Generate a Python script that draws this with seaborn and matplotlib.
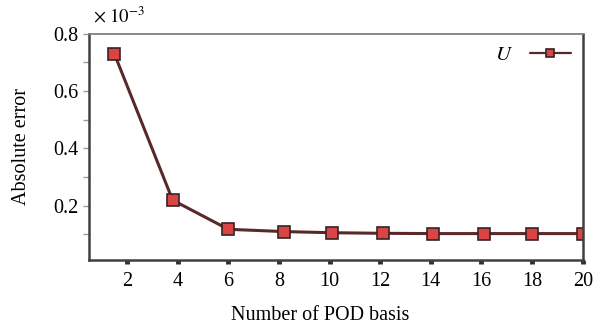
import numpy as np
import pandas as pd
import seaborn as sns
import matplotlib.pyplot as plt
from matplotlib.ticker import MultipleLocator

# values (y in units of 1e-3)
n_basis = [1.5, 3.8, 6.0, 8.2, 10.1, 12.1, 14.1, 16.1, 18.0, 20.0]
abs_error = [0.730, 0.219, 0.117, 0.109, 0.105, 0.103, 0.102, 0.102, 0.102, 0.102]
x_ticks = [2, 4, 6, 8, 10, 12, 14, 16, 18, 20]
y_major = [0.2, 0.4, 0.6, 0.8]

sns.set_theme(style="white")
plt.rcParams['font.family'] = ['Liberation Serif', 'DejaVu Serif']
plt.rcParams['mathtext.fontset'] = 'stix'
plt.rcParams['text.color'] = 'black'
plt.rcParams['axes.labelcolor'] = 'black'
plt.rcParams['xtick.labelcolor'] = 'black'
plt.rcParams['ytick.labelcolor'] = 'black'

df = pd.DataFrame({'n': n_basis, 'err': abs_error, 'series': 'U'})

fig = plt.figure(figsize=(5.94, 3.29), dpi=100)
ax = fig.add_axes([0.150, 0.210, 0.831, 0.687])

sns.lineplot(data=df, x='n', y='err', ax=ax, color='#5a2828', linewidth=2.2,
             marker='s', markersize=8.5, markerfacecolor='#d94545',
             markeredgecolor='#3a2222', markeredgewidth=1.2, label='$U$')

ax.set_xlim(0.5, 20)
ax.set_ylim(0.01, 0.8)
ax.set_xticks(x_ticks)
ax.set_yticks(y_major)
ax.yaxis.set_minor_locator(MultipleLocator(0.1))
ax.set_yticklabels([f'{v:.1f}' for v in y_major])

ax.tick_params(axis='x', which='major', direction='out', length=3, width=3.5,
               color='#303030', labelsize=14.5, pad=6, bottom=True)
ax.tick_params(axis='y', which='both', direction='out', length=4, width=1,
               color='#999999', labelsize=14.5, left=True)
ax.tick_params(axis='y', which='minor', length=4)

for side in ['left', 'bottom', 'right']:
    ax.spines[side].set_color('#404040')
    ax.spines[side].set_linewidth(1.8)
ax.spines['top'].set_color('#808080')
ax.spines['top'].set_linewidth(1.3)

ax.set_xlabel('Number of POD basis', fontsize=14.5)
ax.xaxis.set_label_coords(0.468, -0.205)
ax.set_ylabel('Absolute error', fontsize=14.5, labelpad=16)

fig.text(0.157, 0.950, r'$\times\ 10^{-3}$', fontsize=13.5, ha='left', va='center')

leg = ax.legend(loc='upper right', frameon=False, markerfirst=False,
                fontsize=15, handlelength=2.0, borderaxespad=0.15, markerscale=0.75)
for line in leg.get_lines():
    line.set_linewidth(1.6)

fig.savefig('out.png', dpi=100)
